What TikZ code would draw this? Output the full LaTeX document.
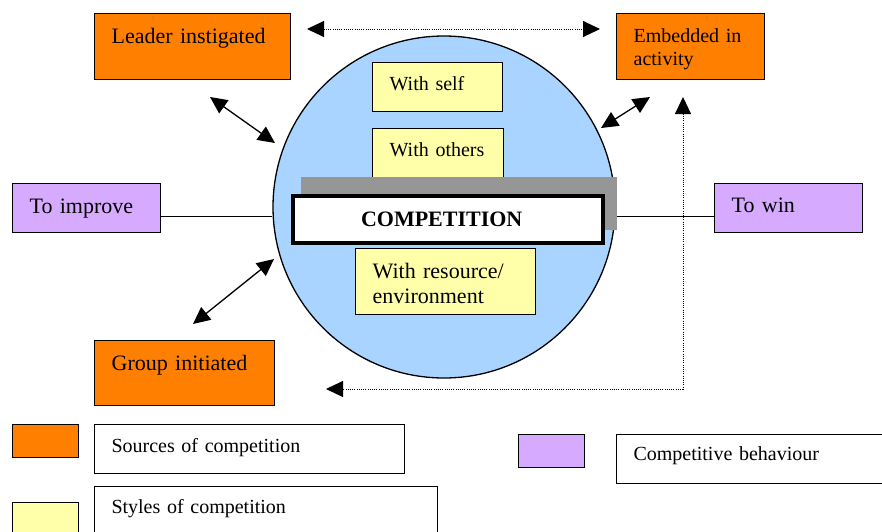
\documentclass[tikz,border=0pt]{standalone}
\usepackage{fontspec}
\setmainfont{Liberation Serif}
\usetikzlibrary{arrows.meta}

\definecolor{srcorange}{RGB}{255,128,0}
\definecolor{styleyellow}{RGB}{255,255,170}
\definecolor{behavpurple}{RGB}{214,170,255}
\definecolor{ringblue}{RGB}{168,212,255}
\definecolor{shadowgray}{RGB}{150,150,150}

\begin{document}
\begin{tikzpicture}[x=1pt,y=-1pt,>={Triangle[length=17pt,width=16pt]},
                    box/.style={draw,anchor=north west,inner xsep=17pt,inner ysep=0pt,align=left,line width=1.3pt},
                    big/.style={font=\fontsize{22}{25}\selectfont},
                    small/.style={font=\fontsize{20}{23}\selectfont},
                    src node/.style={box,fill=srcorange,big},
                    style node/.style={box,fill=styleyellow,small},
                    behav node/.style={box,fill=behavpurple,big},
                    key node/.style={box,line width=1pt,small},
                    swatch/.style={draw,anchor=north west,line width=1.3pt,minimum width=66pt,minimum height=33pt,inner sep=0pt},
                    solid arrow/.style={<->,line width=1.3pt},
                    dot arrow/.style={<->,line width=1pt,dash pattern=on 1pt off 1.2pt}]

  \useasboundingbox (0,0) rectangle (882,531);

  % sources
  \node[src node,text width=162pt,text height=30pt,text depth=36pt] (leader) at (94,13) {Leader instigated};
  \node[src node,small,text width=114pt,text height=29pt,text depth=37pt] (embedded) at (616,13) {Embedded in\\activity};
  \node[src node,text width=146pt,text height=30pt,text depth=35pt] (group) at (94,340) {Group initiated};

  % behaviour
  \node[behav node,text width=114pt,text height=30pt,text depth=19pt] (improve) at (12,183) {To improve};
  \node[behav node,text width=114pt,text height=29pt,text depth=20pt] (win) at (714,183) {To win};

  % the circle and its styles
  \node[circle,draw,fill=ringblue,line width=1.3pt,minimum size=342pt,inner sep=0pt] (ring) at (444,207) {};
  \node[style node,text width=96pt,text height=28pt,text depth=21pt] (self) at (372,62) {With self};
  \node[style node,text width=97pt,text height=28pt,text depth=21pt] (others) at (372,128) {With others};
  \node[fill=shadowgray,anchor=north west,minimum width=316pt,minimum height=53pt,inner sep=0pt] (shadow) at (301,177) {};
  \node[draw,fill=white,line width=4pt,anchor=north west,inner xsep=68pt,inner ysep=0pt,align=left,
        text width=174pt,text height=30pt,text depth=17pt,font=\bfseries\fontsize{22}{25}\selectfont] (comp) at (291,194) {COMPETITION};
  \node[style node,big,text width=146pt,text height=30pt,text depth=36pt] (resource) at (355,248) {With resource/\\environment};

  % key
  \node[swatch,fill=srcorange] (keysrc) at (12,424) {};
  \node[key node,text width=276pt,text height=28pt,text depth=21pt] (keysrctext) at (94,424) {Sources of competition};
  \node[swatch,fill=styleyellow] (keystyle) at (12,502) {};
  \node[key node,text width=309pt,text height=27pt,text depth=32pt] (keystyletext) at (94,486) {Styles of competition};
  \node[swatch,fill=behavpurple] (keybehav) at (518,434) {};
  \node[key node,text width=246pt,text height=26pt,text depth=23pt] (keybehavtext) at (616,434) {Competitive behaviour};

  \coordinate (la) at (210,97);
  \coordinate (lb) at (275,143);
  \coordinate (ea) at (601,128);
  \coordinate (eb) at (650,97);
  \coordinate (ga) at (193,324);
  \coordinate (gb) at (274,259);
  \coordinate (tl) at (307,29);
  \coordinate (tr) at (600,29);
  \coordinate (eup) at (683,97);
  \coordinate (gin) at (326,389);
  \coordinate (il) at ([yshift=-8pt]improve.east);
  \coordinate (wl) at ([yshift=-8pt]win.west);

  \draw[line width=1pt] (il) -- (il -| ring.west);
  \draw[line width=1pt] (shadow.east |- wl) -- (wl);

  \path[solid arrow]
    (la) edge (lb)
    (ea) edge (eb)
    (ga) edge (gb);
  \draw[dot arrow] (tl) -- (tr);
  \draw[dot arrow] (eup) |- (gin);
\end{tikzpicture}
\end{document}
